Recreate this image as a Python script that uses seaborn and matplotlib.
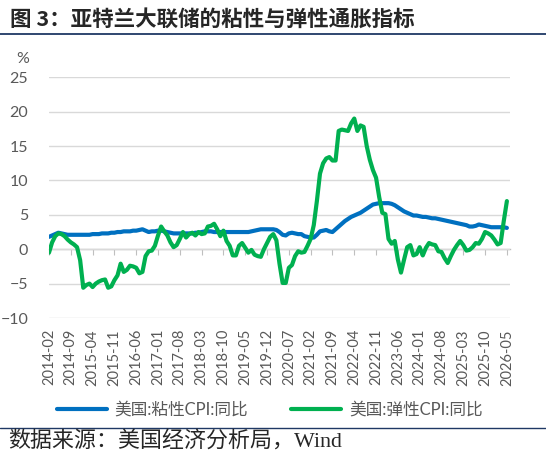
import numpy as np
import pandas as pd
import matplotlib
matplotlib.use("Agg")
import matplotlib.pyplot as plt
import seaborn as sns

# 月度数据: 2014-02 ... 2026-05
meses = pd.date_range("2014-02-01", periods=148, freq="MS").strftime("%Y-%m").tolist()

pegajoso = [
    1.8, 2.0, 2.2, 2.4, 2.3, 2.2, 2.1, 2.1, 2.1, 2.1, 2.1,             # 2014
    2.1, 2.1, 2.1, 2.2, 2.2, 2.2, 2.3, 2.3, 2.3, 2.4, 2.4, 2.5,        # 2015
    2.5, 2.6, 2.6, 2.6, 2.7, 2.7, 2.8, 2.9, 2.7, 2.5, 2.6, 2.6,        # 2016
    2.7, 2.7, 2.6, 2.5, 2.4, 2.3, 2.3, 2.3, 2.3, 2.3, 2.3, 2.3,        # 2017
    2.4, 2.4, 2.5, 2.6, 2.6, 2.6, 2.5, 2.5, 2.5, 2.5, 2.5, 2.5,        # 2018
    2.5, 2.5, 2.5, 2.5, 2.5, 2.5, 2.6, 2.7, 2.8, 2.9, 2.9, 2.9,        # 2019
    2.9, 2.9, 2.8, 2.5, 2.1, 2.0, 2.3, 2.4, 2.3, 2.2, 2.2, 1.9,        # 2020
    1.8, 1.7, 1.7, 2.1, 2.6, 2.7, 2.8, 2.6, 2.5, 2.9, 3.3, 3.7,        # 2021
    4.1, 4.4, 4.7, 4.9, 5.1, 5.3, 5.6, 5.9, 6.2, 6.5, 6.6, 6.7,        # 2022
    6.7, 6.7, 6.7, 6.6, 6.4, 6.1, 5.8, 5.5, 5.3, 5.1, 4.9, 4.9,        # 2023
    4.8, 4.7, 4.7, 4.6, 4.5, 4.5, 4.4, 4.3, 4.2, 4.1, 4.0, 3.9,        # 2024
    3.8, 3.7, 3.6, 3.5, 3.3, 3.3, 3.4, 3.6, 3.5, 3.4, 3.3, 3.2,        # 2025
    3.2, 3.2, 3.2, 3.2, 3.1,                                           # 2026
]

flexible = [
    -0.5, 1.0, 1.9, 2.3, 2.2, 1.9, 1.4, 1.0, 0.7, 0.3, -1.6,           # 2014
    -5.6, -5.2, -5.0, -5.5, -5.0, -4.7, -4.5, -4.4, -5.6, -5.4, -4.5, -3.8,  # 2015
    -2.1, -3.3, -3.0, -2.4, -2.5, -2.7, -3.5, -3.3, -1.0, -0.3, -0.2, 0.5,   # 2016
    2.0, 3.3, 2.6, 2.0, 1.0, 0.3, 0.6, 1.5, 2.5, 1.7, 2.2, 2.4,        # 2017
    2.0, 2.5, 2.2, 2.3, 3.3, 3.4, 3.7, 2.9, 1.9, 2.7, 1.2, 0.5,        # 2018
    -0.9, -0.9, 0.5, 0.9, 0.2, -0.5, -0.1, -0.8, -1.0, -1.1, 0.0, 0.9, # 2019
    1.8, 2.2, 1.3, -2.1, -4.9, -4.9, -2.7, -2.3, -1.0, -0.3, -0.5, -0.4,  # 2020
    0.5, 1.5, 3.5, 7.0, 11.0, 12.5, 13.2, 13.4, 12.9, 12.9, 17.2, 17.4,   # 2021
    17.3, 17.2, 18.3, 19.0, 17.2, 18.0, 17.8, 15.0, 13.0, 11.5, 10.4, 7.6,  # 2022
    5.3, 5.1, 1.5, 0.8, 1.2, -1.5, -3.4, -1.5, 0.3, 0.6, -0.9, -0.7,  # 2023
    0.3, -0.9, 0.2, 0.9, 0.7, 0.6, -0.3, -0.4, -1.3, -2.0, -1.0, -0.1,  # 2024
    0.6, 1.2, 0.6, -0.2, -0.1, 0.3, 0.9, 0.8, 1.5, 2.5, 2.3, 2.0,     # 2025
    1.4, 0.7, 0.9, 4.1, 7.0,                                           # 2026
]

series_names = ["美国:粘性CPI:同比", "美国:弹性CPI:同比"]
colores = ["#0070C0", "#00B050"]
yticks = [-10, -5, 0, 5, 10, 15, 20, 25]

df = pd.DataFrame({
    "i": list(range(len(meses))) * 2,
    "valor": pegajoso + flexible,
    "serie": [series_names[0]] * len(meses) + [series_names[1]] * len(meses),
})

sns.set_style("white")
plt.rcParams["font.family"] = ["Lato", "Noto Sans CJK SC", "DejaVu Sans"]

fig = plt.figure(figsize=(5.46, 4.58), dpi=100)
ax = fig.add_axes([49 / 546, 1 - 318 / 458, 461 / 546, (318 - 77.3) / 458])

sns.lineplot(data=df, x="i", y="valor", hue="serie", palette=colores,
             linewidth=3, legend=False, ax=ax)

ax.set_xlim(0, 148)
ax.set_ylim(-10, 25)
ax.set_yticks(yticks)
ax.grid(axis="y", color="#D9D9D9", linewidth=1)
ax.grid(axis="x", visible=False)
for s in ax.spines.values():
    s.set_visible(False)

ticks = list(range(0, len(meses), 7))
ax.set_xticks(ticks)
ax.set_xticklabels([meses[k] for k in ticks], rotation=90)
ax.tick_params(axis="x", length=0, pad=8, labelsize=10.5, labelcolor="#595959")
ax.tick_params(axis="y", length=0, pad=15, labelsize=11.5, labelcolor="#595959")
ax.set_xlabel("")
ax.set_ylabel("")

# eje en cero con marcas
sec = ax.secondary_xaxis(10 / 35)
sec.set_xticks(ticks)
sec.tick_params(axis="x", length=4, color="#BFBFBF", labelbottom=False)
sec.spines["bottom"].set_color("#BFBFBF")
sec.spines["bottom"].set_linewidth(1)

fig.text(23 / 546, 1 - 59 / 458, "%", ha="center", va="center",
         fontsize=11.5, color="#595959")

fig.legend(handles=ax.lines[:2], labels=series_names, loc="center left",
           bbox_to_anchor=(57 / 546, 1 - 410 / 458), ncol=2, frameon=False,
           fontsize=12, handlelength=3.0, handletextpad=0.45, columnspacing=2.6,
           borderpad=0, borderaxespad=0, labelcolor="#595959")

fig.text(10 / 546, 1 - 19 / 458, "图 3：亚特兰大联储的粘性与弹性通胀指标",
         ha="left", va="center", fontsize=15.5, fontweight="bold",
         family=["Noto Sans CJK SC", "DejaVu Sans"])
fig.add_artist(plt.Line2D([0, 1], [1 - 34 / 458] * 2, color="#1F3864", linewidth=1.3))
fig.add_artist(plt.Line2D([0, 1], [1 - 428 / 458] * 2, color="#1F3864", linewidth=1))
fig.text(8 / 546, 1 - 442 / 458, "数据来源：美国经济分析局，Wind",
         ha="left", va="center", fontsize=15.8,
         family=["Liberation Serif", "Noto Sans CJK SC"])

fig.savefig("out.png", dpi=100)
